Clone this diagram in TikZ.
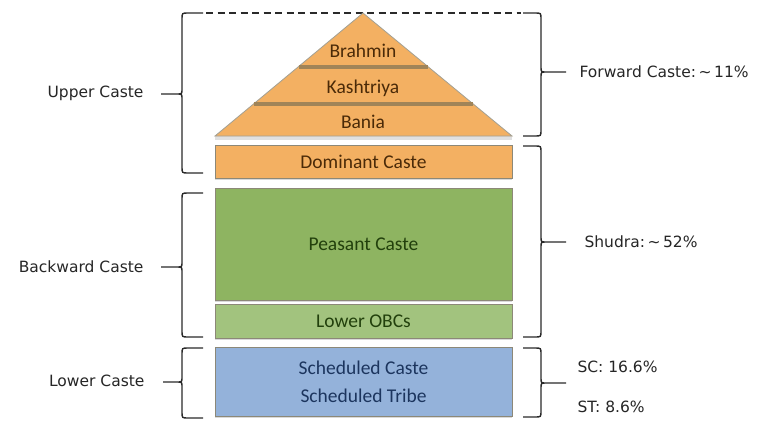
\documentclass[tikz,border=0pt]{standalone}
\usepackage{fontspec}
\setmainfont{Carlito}
\newfontfamily\labelfont{DejaVu Sans}
\definecolor{orfill}{HTML}{F3B062}
\definecolor{ortext}{HTML}{4A2A08}
\definecolor{grfill}{HTML}{8EB461}
\definecolor{grlight}{HTML}{A2C37E}
\definecolor{grtext}{HTML}{22400C}
\definecolor{blfill}{HTML}{94B2DA}
\definecolor{bltext}{HTML}{1C355E}
\definecolor{sepcol}{HTML}{A08458}
\definecolor{edgecol}{HTML}{8C8878}
\definecolor{inkcol}{HTML}{2A2A2A}
\newcommand\braceLeft[6]{% xe xv xt y1 ym y2
  \draw[brc] (#1,#4) -- (#2+6,#4) .. controls (#2,#4) .. (#2,#4+6) -- (#2,#5-5)
     .. controls (#2,#5) .. (#2-5,#5) -- (#3,#5)
     (#1,#6) -- (#2+6,#6) .. controls (#2,#6) .. (#2,#6-6) -- (#2,#5+5)
     .. controls (#2,#5) .. (#2-5,#5);}
\newcommand\braceRight[6]{% xe xv xt y1 ym y2
  \draw[brc] (#1,#4) -- (#2-6,#4) .. controls (#2,#4) .. (#2,#4+6) -- (#2,#5-5)
     .. controls (#2,#5) .. (#2+5,#5) -- (#3,#5)
     (#1,#6) -- (#2-6,#6) .. controls (#2,#6) .. (#2,#6-6) -- (#2,#5+5)
     .. controls (#2,#5) .. (#2+5,#5);}
\begin{document}
\begin{tikzpicture}[x=1pt,y=-1pt,
  boxtext/.style={font=\fontsize{19.5}{22}\selectfont},
  layer/.style={draw=edgecol, line width=1pt, minimum width=297pt,
    inner sep=0pt, boxtext, preaction={fill=black!15, transform canvas={yshift=-1.5pt}}},
  side/.style={font=\labelfont\fontsize{15.5}{19}\selectfont, text=black!85},
  brc/.style={draw=inkcol, line width=1.4pt},
  seam/.style={draw=sepcol, line width=3.5pt}]
\useasboundingbox (0,0) rectangle (759,420);
\fill[white] (0,0) rectangle (759,420);

% dashed top line
\draw[inkcol, line width=1.4pt, dash pattern=on 7pt off 4.5pt] (206,13) -- (521,13);

% pyramid
\coordinate (apex) at (363,13);
\coordinate (bl) at (215,136);
\coordinate (br) at (512,136);
\fill[black!12] (215,136) rectangle (512,140);
\filldraw[fill=orfill, draw=edgecol!80, line width=0.8pt] (bl) -- (apex) -- (br) -- cycle;
\draw[seam] (298.5,67) -- (427.5,67);
\draw[seam] (253.5,104) -- (472.5,104);
\node[boxtext, text=ortext] (brahmin) at (363,51) {Brahmin};
\node[boxtext, text=ortext] (kash) at (363,88) {Kashtriya};
\node[boxtext, text=ortext] (bania) at (363,122) {Bania};

% layers
\node[layer, fill=orfill, text=ortext, minimum height=33pt] (dom) at (363.5,161.5) {Dominant Caste};
\node[layer, fill=grfill, text=grtext, minimum height=112pt] (peas) at (363.5,244) {Peasant Caste};
\node[layer, fill=grlight, text=grtext, minimum height=34pt] (obc) at (363.5,321) {Lower OBCs};
\node[layer, fill=blfill, text=bltext, minimum height=69pt, align=center,
  font=\fontsize{19.5}{28}\selectfont] (scst) at (363.5,381.5) {Scheduled Caste\\Scheduled Tribe};

% left braces
\braceLeft{203}{182}{161}{13}{94}{173}
\braceLeft{203}{182}{161}{193}{267}{337}
\braceLeft{203}{182}{163}{348}{382}{418}
\node[side, anchor=east] (upper) at (147,93) {Upper Caste};
\node[side, anchor=east] (backward) at (147,267) {Backward Caste};
\node[side, anchor=east] (lower) at (148,381) {Lower Caste};

% right braces
\braceRight{523}{541}{566}{13}{72}{136}
\braceRight{523}{541}{566}{146}{242}{337}
\braceRight{523}{541}{566}{348}{383}{417}
\node[side, anchor=west] (fwd) at (576,72) {Forward Caste:\,\textasciitilde\,11\%};
\node[side, anchor=west] (shudra) at (581,242) {Shudra:\,\textasciitilde\,52\%};
\node[side, anchor=west] (sc) at (574,367) {SC: 16.6\%};
\node[side, anchor=west] (st) at (574,407) {ST: 8.6\%};
\end{tikzpicture}
\end{document}
